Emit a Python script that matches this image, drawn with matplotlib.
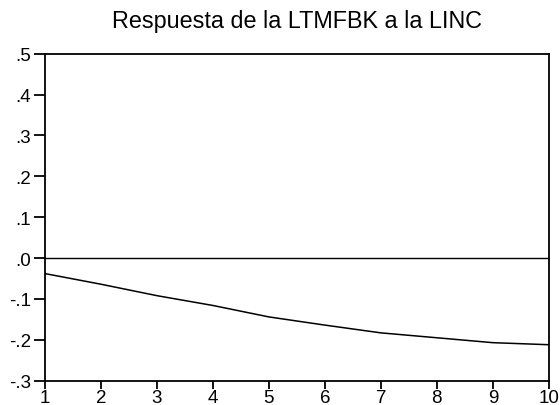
import matplotlib
matplotlib.use("Agg")
import matplotlib.pyplot as plt
from matplotlib.ticker import FuncFormatter

periods = [1, 2, 3, 4, 5, 6, 7, 8, 9, 10]
response = [-0.038, -0.064, -0.092, -0.116, -0.144, -0.164, -0.183, -0.195, -0.207, -0.212]
y_ticks = [-0.3, -0.2, -0.1, 0.0, 0.1, 0.2, 0.3, 0.4, 0.5]

plt.rcParams["font.family"] = ["Liberation Sans", "DejaVu Sans"]

fig = plt.figure(figsize=(5.6, 4.06), dpi=100)
ax = fig.add_axes([0.0804, 0.0599, 0.8996, 0.8053])

ax.plot(periods, response, color="black", linewidth=1.1)
ax.axhline(0, color="black", linewidth=1.0)

ax.set_xlim(1, 10)
ax.set_ylim(-0.3, 0.5)
ax.set_xticks(periods)
ax.set_yticks(y_ticks)


def fmt(v, pos):
    s = f"{v:.1f}"
    return s.replace("0.", ".")


ax.yaxis.set_major_formatter(FuncFormatter(fmt))
ax.tick_params(axis="y", direction="out", length=8, width=1.3, labelsize=13.5, pad=2)
ax.tick_params(axis="x", direction="out", length=6, width=1.3, labelsize=13.5, pad=0)
for sp in ax.spines.values():
    sp.set_linewidth(1.3)

ax.set_title("Respuesta de la LTMFBK a la LINC", fontsize=16.8, pad=19)

fig.savefig("out.png", dpi=100)
